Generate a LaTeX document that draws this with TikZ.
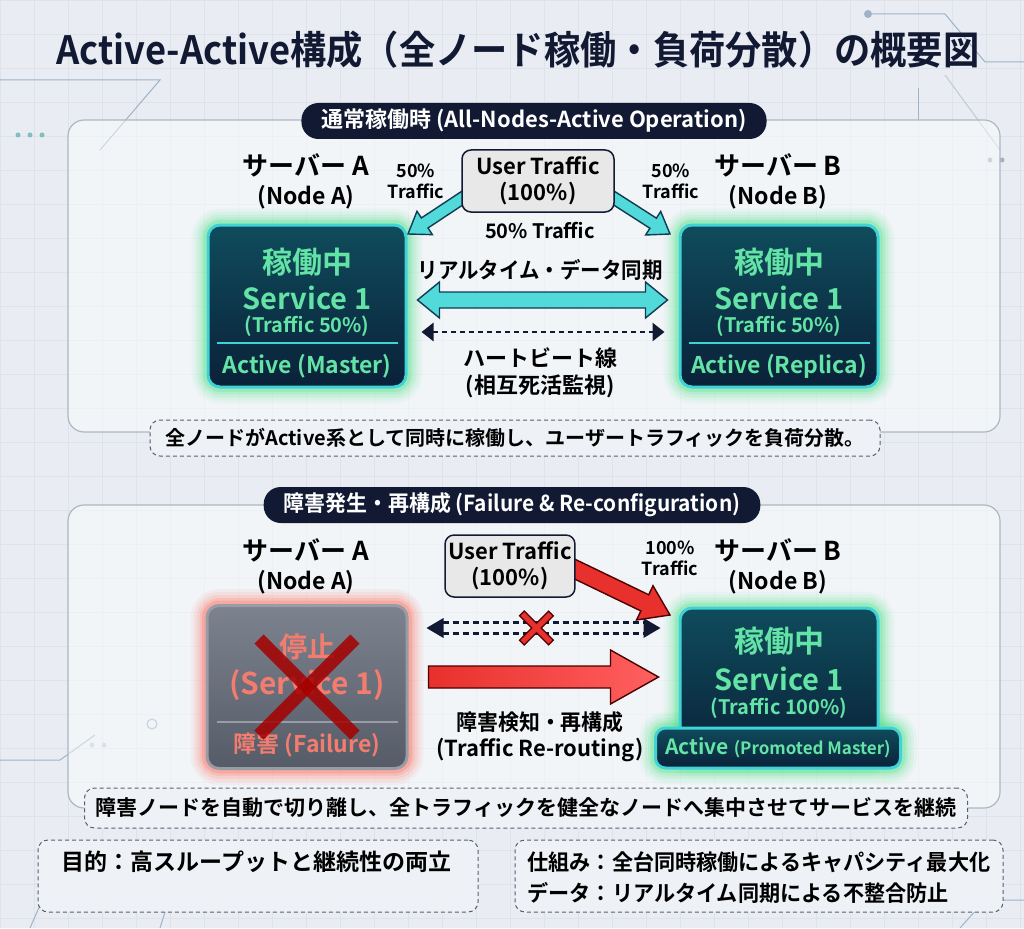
\documentclass[tikz,border=0pt]{standalone}
\usepackage{fontspec}
\setmainfont{Noto Sans CJK JP}[BoldFont={Noto Sans CJK JP Bold}]
\usetikzlibrary{calc,arrows.meta}
\definecolor{bgc}{HTML}{E9EDF3}
\definecolor{gridc}{HTML}{DEE3EA}
\definecolor{navy}{HTML}{121A33}
\definecolor{panelb}{HTML}{AEB7C4}
\definecolor{cyanb}{HTML}{3FD3D8}
\definecolor{cyanf}{HTML}{52D9DA}
\definecolor{greent}{HTML}{63E3A5}
\definecolor{glowg}{HTML}{3EE27E}
\definecolor{glowr}{HTML}{FF5A46}
\definecolor{redf}{HTML}{E8302C}
\definecolor{redl}{HTML}{FF6060}
\definecolor{salmon}{HTML}{F27C6E}
\definecolor{decor}{HTML}{9FB3C8}
\definecolor{notef}{HTML}{EEF1F5}
\definecolor{boxtop}{HTML}{0F4C5C}
\definecolor{boxbot}{HTML}{0A2139}
\definecolor{failtop}{HTML}{7D828F}
\definecolor{failbot}{HTML}{565B68}
\definecolor{failb}{HTML}{979CA6}
\newcommand{\myfs}[1]{\fontsize{#1}{#1}\selectfont\bfseries}
\newcommand{\myfsl}[2]{\fontsize{#1}{#2}\selectfont\bfseries}
\pgfdeclarelayer{bgl}
\pgfdeclarelayer{glowl}
\pgfsetlayers{bgl,glowl,main}
% single block arrow: style, from, to, shaft half width, head half width, head length
\newcommand{\blockarrow}[6]{%
  \path[#1] let \p1=($(#3)-(#2)$), \n1={atan2(\y1,\x1)}, \n2={veclen(\x1,\y1)},
      \n3={\n2-#6}, \n4={\n1+90}, \n5={\n1-90} in
    ($(#2)+(\n4:#4)$) -- ($(#2)+(\n1:\n3)+(\n4:#4)$) -- ($(#2)+(\n1:\n3)+(\n4:#5)$) -- (#3)
    -- ($(#2)+(\n1:\n3)+(\n5:#5)$) -- ($(#2)+(\n1:\n3)+(\n5:#4)$) -- ($(#2)+(\n5:#4)$) -- cycle;}
% double block arrow
\newcommand{\dblarrow}[6]{%
  \path[#1] let \p1=($(#3)-(#2)$), \n1={atan2(\y1,\x1)}, \n2={veclen(\x1,\y1)},
      \n3={\n2-#6}, \n4={\n1+90}, \n5={\n1-90} in
    (#2) -- ($(#2)+(\n1:#6)+(\n4:#5)$) -- ($(#2)+(\n1:#6)+(\n4:#4)$) -- ($(#2)+(\n1:\n3)+(\n4:#4)$)
    -- ($(#2)+(\n1:\n3)+(\n4:#5)$) -- (#3) -- ($(#2)+(\n1:\n3)+(\n5:#5)$) -- ($(#2)+(\n1:\n3)+(\n5:#4)$)
    -- ($(#2)+(\n1:#6)+(\n5:#4)$) -- ($(#2)+(\n1:#6)+(\n5:#5)$) -- cycle;}
\newcommand{\glowbox}[3]{%
  \foreach \w/\o in {30/0.06,24/0.08,18/0.1,12/0.14,7/0.22}{%
    \draw[#2, line width=\w pt, opacity=\o, rounded corners=#3] (#1.south west) rectangle (#1.north east);}}
\begin{document}
\begin{tikzpicture}[x=1pt,y=1pt,
  panel/.style={draw=panelb, line width=1.2pt, rounded corners=16pt, fill=white, fill opacity=0.45},
  pill/.style={fill=navy, text=white, rounded corners=17pt, minimum height=36pt, inner xsep=20pt, font=\myfs{22}},
  srv/.style={text=black, font=\myfs{26}},
  srvsub/.style={text=black, font=\myfs{23}},
  smalllab/.style={text=black, align=center, font=\myfsl{18}{21}},
  midlab/.style={text=black, font=\myfs{21}},
  ubox/.style={draw=navy, line width=1.5pt, fill=gray!18, rounded corners=9pt, align=center, font=\myfsl{22}{26}, text=black},
  activebox/.style={draw=cyanb, line width=3pt, rounded corners=12pt, top color=boxtop, bottom color=boxbot, minimum width=198pt},
  failbox/.style={draw=failb, line width=3pt, rounded corners=12pt, top color=failtop, bottom color=failbot, minimum width=200pt},
  gtext/.style={text=greent},
  rtext/.style={text=salmon},
  note/.style={draw=navy!70, line width=1pt, dash pattern=on 4pt off 3pt, rounded corners=10pt, fill=notef, text=black},
  cyanarrow/.style={fill=cyanf, draw=navy!85!cyan, line width=1.4pt, line join=miter},
  redarrow/.style={left color=redf, right color=redl, draw=black!70!red, line width=1.4pt, line join=miter},
  redarrowd/.style={fill=redf, draw=black!70!red, line width=1.4pt, line join=miter},
]
\useasboundingbox (0,0) rectangle (1024,-928);
\begin{pgfonlayer}{bgl}
\fill[bgc] (0,0) rectangle (1024,-928);
\draw[gridc, line width=0.6pt, step=34pt] (0,-928) grid (1024,0);
% decorative circuit lines
\draw[decor, line width=1pt] (868,-14) -- (945,-14) -- (985,-62) -- (1024,-62);
\fill[decor] (868,-14) circle (4pt);
\draw[decor, line width=1pt] (918,-88) -- (918,-120);
\draw[decor!70, line width=1pt] (945,-75) -- (1000,-150);
\draw[decor, line width=1pt] (0,-80) -- (160,-80) -- (100,-150);
\fill[teal!50] (18,-135) circle (2.5pt) (30,-135) circle (2.5pt) (42,-135) circle (2.5pt);
\fill[decor] (990,-160) circle (2.5pt) (1002,-160) circle (2.5pt);
\draw[decor, line width=1pt] (0,-760) -- (60,-760) -- (95,-735);
\draw[decor, line width=1.2pt] (152,-724) circle (5pt);
\fill[decor!70] (92,-745) circle (2.5pt) (104,-745) circle (2.5pt);
\draw[decor, line width=1pt] (30,-928) -- (60,-860);
\draw[decor, line width=1pt] (160,-928) -- (175,-880);
\draw[decor, line width=1pt] (960,-928) -- (985,-900) -- (1024,-900);
% panels
\draw[panel] (68,-120) rectangle (1000,-432);
\draw[panel] (68,-505) rectangle (1000,-808);
\end{pgfonlayer}

% title
\node[text=navy, font=\myfs{39}] (title) at (518,-50) {\scalebox{0.93}[1]{Active-Active構成（全ノード稼働・負荷分散）の概要図}};

%%%%% TOP PANEL
\node[pill] (hdr1) at (534,-121) {通常稼働時 (All-Nodes-Active Operation)};
\node[srv] (labA) at (306,-165) {サーバー A};
\node[srvsub] (subA) at (306,-197) {(Node A)};
\node[srv] (labB) at (778,-165) {サーバー B};
\node[srvsub] (subB) at (778,-197) {(Node B)};
\node[smalllab] (tA) at (416,-181) {50\%\\Traffic};
\node[smalllab] (tB) at (671,-181) {50\%\\Traffic};

\node[activebox, minimum height=162pt] (boxA) at (307,-306) {};
\node[activebox, minimum height=162pt] (boxB) at (779,-306) {};
\begin{pgfonlayer}{glowl}
\glowbox{boxA}{glowg}{14pt}
\glowbox{boxB}{glowg}{14pt}
\end{pgfonlayer}
\foreach \b/\r in {boxA/Master, boxB/Replica}{
  \node[gtext, font=\myfs{30}] at ([yshift=44pt]\b.center) {稼働中};
  \node[gtext, font=\myfs{29}] at ([yshift=8pt]\b.center) {Service 1};
  \node[gtext, font=\myfs{20}] at ([yshift=-20pt]\b.center) {(Traffic 50\%)};
  \draw[cyanb, line width=2pt] ([xshift=10pt,yshift=-37pt]\b.west) -- ([xshift=-10pt,yshift=-37pt]\b.east);
  \node[gtext, font=\myfs{23}] at ([yshift=-60pt]\b.center) {Active (\r)};
}

% user traffic arrows
\coordinate (a1s) at (470,-193);
\coordinate (a1e) at (408,-234);
\coordinate (a2s) at (606,-193);
\coordinate (a2e) at (670,-234);
\blockarrow{cyanarrow}{a1s}{a1e}{6}{14}{20}
\blockarrow{cyanarrow}{a2s}{a2e}{6}{14}{20}
\node[ubox, minimum width=152pt, minimum height=62pt] (ut1) at (538,-181) {User Traffic\\(100\%)};
\node[midlab, font=\myfs{20}] (t50) at (540,-231) {50\% Traffic};

\node[midlab, font=\myfs{22}] (sync) at (540,-270) {\scalebox{0.93}[1]{リアルタイム・データ同期}};
\coordinate (sL) at ($(boxA.east)+(10,6)$);
\coordinate (sR) at ($(boxB.west)+(-11,6)$);
\dblarrow{cyanarrow}{sL}{sR}{8}{18}{22}

\coordinate (hL) at ($(boxA.east)+(14,-26)$);
\coordinate (hR) at ($(boxB.west)+(-14,-26)$);
\draw[navy, line width=2.8pt, dash pattern=on 5pt off 4pt, {Triangle[length=12pt,width=18pt]}-{Triangle[length=12pt,width=18pt]}] (hL) -- (hR);
\node[midlab, font=\myfs{22}] (hb1) at (540,-358) {ハートビート線};
\node[midlab, font=\myfs{22}] (hb2) at (540,-386) {(相互死活監視)};

\node[note, minimum width=730pt, minimum height=36pt, font=\myfs{20}] (n1) at (515,-438) {全ノードがActive系として同時に稼働し、ユーザートラフィックを負荷分散。};

%%%%% BOTTOM PANEL
\node[pill] (hdr2) at (512,-505) {\scalebox{0.95}[1]{障害発生・再構成 (Failure \& Re-configuration)}};
\node[srv] (labA2) at (306,-550) {サーバー A};
\node[srvsub] (subA2) at (306,-582) {(Node A)};
\node[srv] (labB2) at (778,-550) {サーバー B};
\node[srvsub] (subB2) at (778,-582) {(Node B)};
\node[smalllab] (t100) at (670,-558) {100\%\\Traffic};

\node[failbox, minimum height=163pt] (boxC) at (307,-687) {};
\node[activebox, minimum height=152pt] (boxD) at (779,-684) {};
\node[activebox, minimum width=245pt, minimum height=40pt, rounded corners=10pt, inner sep=0pt] (prom) at (778,-748)
  {\textcolor{greent}{\myfs{21}Active \myfs{17}(Promoted Master)}};
\begin{pgfonlayer}{glowl}
\glowbox{boxC}{glowr}{14pt}
\glowbox{boxD}{glowg}{14pt}
\glowbox{prom}{glowg}{12pt}
\end{pgfonlayer}
\node[rtext, font=\myfs{28}] at ([yshift=40pt]boxC.center) {停止};
\node[rtext, font=\myfs{30}] at ([yshift=2pt]boxC.center) {(Service 1)};
\draw[failb, line width=2pt] ([xshift=11pt,yshift=-35pt]boxC.west) -- ([xshift=-11pt,yshift=-35pt]boxC.east);
\node[rtext, font=\myfs{23}] at ([yshift=-58pt]boxC.center) {障害 (Failure)};
\draw[red!65!black, opacity=0.85, line width=13pt] ($(boxC.center)+(-48,48)$) -- ($(boxC.center)+(48,-48)$);
\draw[red!65!black, opacity=0.85, line width=13pt] ($(boxC.center)+(48,48)$) -- ($(boxC.center)+(-48,-48)$);

\node[gtext, font=\myfs{30}] at ([yshift=43pt]boxD.center) {稼働中};
\node[gtext, font=\myfs{29}] at ([yshift=5pt]boxD.center) {Service 1};
\node[gtext, font=\myfs{20}] at ([yshift=-24pt]boxD.center) {(Traffic 100\%)};

% user traffic red arrow
\coordinate (r1s) at (560,-562);
\coordinate (r1e) at (670,-615);
\blockarrow{redarrowd}{r1s}{r1e}{9}{19}{28}
\node[ubox, minimum width=116pt, minimum height=62pt] (ut2) at (510,-566) {User Traffic\\(100\%)};

% broken heartbeat
\coordinate (hL2) at ($(boxC.east)+(18,59)$);
\coordinate (hR2) at ($(boxD.west)+(-18,56)$);
\draw[navy, line width=2.4pt, dash pattern=on 6pt off 4pt] ($(hL2)+(16,5.5)$) -- ($(hR2)+(-16,5.5)$);
\draw[navy, line width=2.4pt, dash pattern=on 6pt off 4pt] ($(hL2)+(16,-5.5)$) -- ($(hR2)+(-16,-5.5)$);
\fill[navy] (hL2) -- ($(hL2)+(17,10)$) -- ($(hL2)+(17,-10)$) -- cycle;
\fill[navy] (hR2) -- ($(hR2)+(-17,10)$) -- ($(hR2)+(-17,-10)$) -- cycle;
\coordinate (xm) at ($(hL2)!0.47!(hR2)$);
\draw[black!70!red, line width=8pt] ($(xm)+(-15,15)$) -- ($(xm)+(15,-15)$);
\draw[black!70!red, line width=8pt] ($(xm)+(15,15)$) -- ($(xm)+(-15,-15)$);
\draw[redf, line width=5pt] ($(xm)+(-14,14)$) -- ($(xm)+(14,-14)$);
\draw[redf, line width=5pt] ($(xm)+(14,14)$) -- ($(xm)+(-14,-14)$);

% re-routing arrow
\coordinate (rL) at ($(boxC.east)+(20,10)$);
\coordinate (rR) at ($(boxD.west)+(-20,7)$);
\blockarrow{redarrow}{rL}{rR}{11}{27}{48}
\node[midlab, font=\myfs{22}] (rr1) at (540,-722) {\scalebox{0.95}[1]{障害検知・再構成}};
\node[midlab, font=\myfs{22}] (rr2) at (540,-750) {(Traffic Re-routing)};

\node[note, minimum width=883pt, minimum height=40pt, font=\myfs{21}] (n2) at (526,-808) {障害ノードを自動で切り離し、全トラフィックを健全なノードへ集中させてサービスを継続};

%%%%% BOTTOM NOTES
\node[note, minimum width=440pt, minimum height=72pt] (n3) at (258,-876) {};
\node[anchor=west, text=black, font=\myfs{23}] (n3t) at (58,-862) {目的：高スループットと継続性の両立};
\node[note, minimum width=488pt, minimum height=72pt] (n4) at (759,-876) {};
\node[anchor=west, text=black, font=\myfs{22}] (n4a) at (524,-862) {\scalebox{0.96}[1]{仕組み：全台同時稼働によるキャパシティ最大化}};
\node[anchor=west, text=black, font=\myfs{22}] (n4b) at (524,-893) {\scalebox{0.96}[1]{データ：リアルタイム同期による不整合防止}};
\end{tikzpicture}
\end{document}
